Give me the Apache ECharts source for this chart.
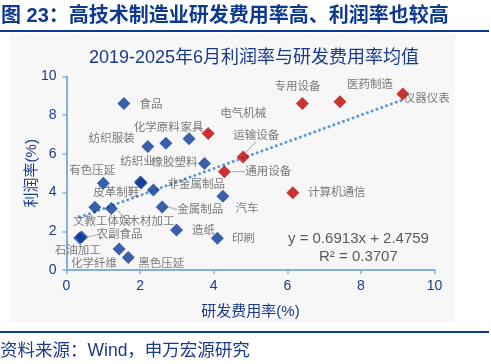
<!DOCTYPE html>
<html>
<head>
<meta charset="utf-8">
<script src="https://cdn.jsdelivr.net/npm/echarts@6/dist/echarts.min.js"></script>
<style>
html,body{margin:0;padding:0;background:#fff;}
#c{width:491px;height:364px;}
</style>
</head>
<body>
<div id="c"></div>
<script>
// ---- data ----
const blueNames  = ['食品','纺织服装','化学原料','家具','橡胶塑料','纺织业','皮革制鞋','有色压延','非金属制品','汽车','文教工体娱','木材加工','金属制品','造纸','农副食品','石油加工','化学纤维','黑色压延','印刷'];
const blueRD     = [1.56, 2.21, 2.70, 3.33, 3.75, 2.01, 2.03, 1.00, 2.36, 4.25, 0.77, 1.22, 2.60, 2.99, 0.41, 0.36, 1.43, 1.68, 4.10];
const blueProfit = [8.61, 6.38, 6.55, 6.78, 5.51, 4.55, 4.50, 4.48, 4.13, 3.81, 3.24, 3.18, 3.26, 2.07, 1.71, 1.66, 1.09, 0.65, 1.64];

const redNames  = ['电气机械','运输设备','通用设备','专用设备','医药制造','仪器仪表','计算机通信'];
const redRD     = [3.85, 4.80, 4.29, 6.41, 7.43, 9.14, 6.15];
const redProfit = [7.05, 5.84, 5.08, 8.61, 8.70, 9.10, 3.99];

const trendSlope = 0.6913;
const trendIntercept = 2.4759;
const rSquared = 0.3707;

const axisTicks = [0, 2, 4, 6, 8, 10];

// ---- label placement (pixel offsets of label centre from its marker) ----
const labelOffsets = {
  '食品':[27,1],'纺织服装':[-36,-8],'化学原料':[-9,-15],'家具':[3,-11],'橡胶塑料':[-30,-1],
  '纺织业':[-3,-20],'皮革制鞋':[-25,10],'有色压延':[-11,-12],'非金属制品':[43,-5],'汽车':[24,13],
  '文教工体娱':[7,15],'木材加工':[40,13],'金属制品':[38,3],'造纸':[27,1],'农副食品':[38,-2],
  '石油加工':[-2,13],'化学纤维':[-25,15],'黑色压延':[33,6],'印刷':[26,1],
  '电气机械':[35,-20],'运输设备':[13,-21],'通用设备':[44,0],'专用设备':[-5,-17],
  '医药制造':[30,-17],'仪器仪表':[24,5],'计算机通信':[44,0]
};
const leaderNames = ['通用设备','运输设备','金属制品','农副食品','木材加工'];

const FONT = '"Liberation Sans", Arial, "Noto Sans CJK SC", sans-serif';

function buildData(names, xs, ys) {
  return names.map((n, i) => ({
    name: n,
    value: [xs[i], ys[i]],
    labelLine: { show: leaderNames.indexOf(n) >= 0 }
  }));
}
const blueData = buildData(blueNames, blueRD, blueProfit);
const redData = buildData(redNames, redRD, redProfit);

const allX = blueRD.concat(redRD);
const xLo = Math.min.apply(null, allX), xHi = Math.max.apply(null, allX);
const trendData = [[xLo, trendSlope * xLo + trendIntercept], [xHi, trendSlope * xHi + trendIntercept]];

function layoutFor(names) {
  return function (p) {
    const o = labelOffsets[names[p.dataIndex]] || [0, 0];
    return { dx: o[0], dy: o[1] };
  };
}

const labelStyle = {
  show: true,
  position: 'inside',
  formatter: '{b}',
  color: '#595959',
  fontSize: 11.5,
  fontFamily: FONT
};
const labelLineStyle = { show: false, length: 0, length2: 0, lineStyle: { color: '#a6a6a6', width: 1 } };

const chart = echarts.init(document.getElementById('c'), null, { renderer: 'canvas' });
chart.setOption({
  animation: false,
  backgroundColor: '#ffffff',
  textStyle: { fontFamily: FONT },
  graphic: [
    { type: 'rect', z: -10, shape: { x: 10, y: 34, width: 445, height: 289 }, style: { fill: '#f7f7f7' } },
    { type: 'line', shape: { x1: 0, y1: 31, x2: 489, y2: 31 }, style: { stroke: '#0b3a94', lineWidth: 2 } },
    { type: 'line', shape: { x1: 0, y1: 332, x2: 489, y2: 332 }, style: { stroke: '#0b3a94', lineWidth: 2 } },
    { type: 'text', left: 1, top: 6, style: { text: '图 23：高技术制造业研发费用率高、利润率也较高', fill: '#0d3a8e', font: 'bold 20px ' + FONT } },
    { type: 'text', left: 0, top: 342, style: { text: '资料来源：Wind，申万宏源研究', fill: '#1a3a8a', font: '17.5px ' + FONT } },
    { type: 'text', left: 288, top: 231, style: { text: 'y = ' + trendSlope.toFixed(4) + 'x + ' + trendIntercept.toFixed(4), fill: '#595959', font: '15px ' + FONT } },
    { type: 'text', left: 319, top: 249, style: { text: 'R² = ' + rSquared.toFixed(4), fill: '#595959', font: '15px ' + FONT } }
  ],
  title: {
    text: '2019-2025年6月利润率与研发费用率均值',
    left: 249, top: 44, textAlign: 'center',
    textStyle: { color: '#1a3a8a', fontSize: 18, fontWeight: 'normal', fontFamily: FONT }
  },
  grid: { left: 66.5, right: 56.5, top: 76.5, bottom: 94 },
  xAxis: {
    type: 'value', min: axisTicks[0], max: axisTicks[axisTicks.length - 1], interval: 2,
    name: '研发费用率(%)', nameLocation: 'middle', nameGap: 34, nameMoveOverlap: false,
    nameTextStyle: { color: '#1a3a8a', fontSize: 15, fontFamily: FONT },
    axisLine: { show: true, onZero: false, lineStyle: { color: '#82b0de', width: 2 } },
    axisTick: { show: true, length: 4, lineStyle: { color: '#82b0de', width: 1.5 } },
    axisLabel: { color: '#1a3a8a', fontSize: 14, margin: 9, fontFamily: FONT },
    splitLine: { show: false }
  },
  yAxis: {
    type: 'value', min: axisTicks[0], max: axisTicks[axisTicks.length - 1], interval: 2,
    name: '利润率(%)', nameLocation: 'middle', nameGap: 27, nameRotate: 90, nameMoveOverlap: false,
    nameTextStyle: { color: '#1a3a8a', fontSize: 15, fontFamily: FONT },
    axisLine: { show: true, onZero: false, lineStyle: { color: '#82b0de', width: 2 } },
    axisTick: { show: true, length: 4, lineStyle: { color: '#82b0de', width: 1.5 } },
    axisLabel: { color: '#1a3a8a', fontSize: 14, margin: 10, fontFamily: FONT },
    splitLine: { show: false }
  },
  series: [
    {
      type: 'line', data: trendData, showSymbol: false, symbol: 'none', z: 3,
      lineStyle: { color: '#5b9bd5', width: 3, type: [0.1, 5], cap: 'round' },
      silent: true
    },
    {
      type: 'scatter', data: blueData, symbol: 'diamond', symbolSize: 13, z: 4,
      itemStyle: { color: '#0a3a96' },
      label: labelStyle, labelLine: labelLineStyle, labelLayout: layoutFor(blueNames)
    },
    {
      type: 'scatter', data: redData, symbol: 'diamond', symbolSize: 13, z: 4,
      itemStyle: { color: '#c00000' },
      label: labelStyle, labelLine: labelLineStyle, labelLayout: layoutFor(redNames)
    }
  ]
});
</script>
</body>
</html>
